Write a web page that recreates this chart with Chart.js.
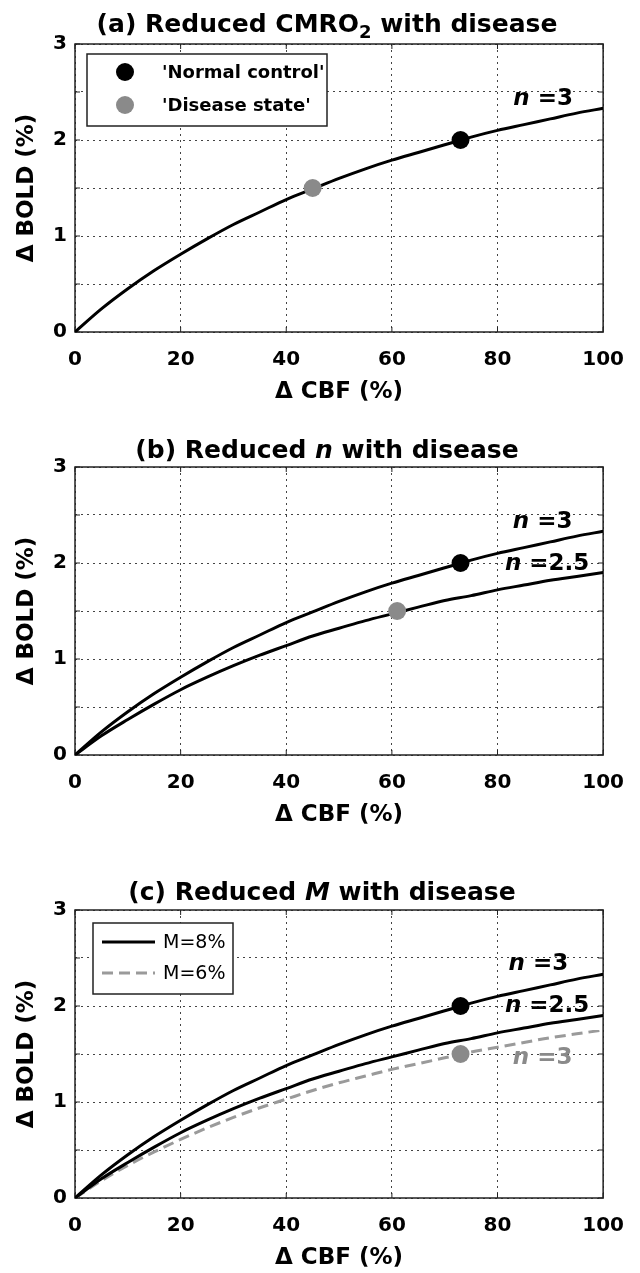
<!DOCTYPE html>
<html>
<head>
<meta charset="utf-8">
<script src="https://cdn.jsdelivr.net/npm/chart.js@4.4.0/dist/chart.umd.min.js"></script>
<style>
  body { margin: 0; background: #fff; }
  #wrap { position: relative; width: 640px; height: 1273px; }
  .panel { position: absolute; left: 0; width: 640px; }
</style>
</head>
<body>
<div id="wrap">
  <div class="panel" style="top:0"><canvas id="chartA" width="640" height="423"></canvas></div>
  <div class="panel" style="top:423px"><canvas id="chartB" width="640" height="443"></canvas></div>
  <div class="panel" style="top:866px"><canvas id="chartC" width="640" height="407"></canvas></div>
</div>
<script>
// values
const cbf = [0, 5, 10, 15, 20, 25, 30, 35, 40, 45, 50, 55, 60, 65, 70, 75, 80, 85, 90, 95, 100];
const boldN3M8 = [0, 0.24, 0.45, 0.64, 0.81, 0.97, 1.12, 1.25, 1.38, 1.49, 1.60, 1.70, 1.79, 1.87, 1.95, 2.03, 2.10, 2.16, 2.22, 2.28, 2.33];
const boldN25M8 = [0, 0.20, 0.37, 0.53, 0.68, 0.81, 0.93, 1.04, 1.14, 1.24, 1.32, 1.40, 1.47, 1.54, 1.61, 1.66, 1.72, 1.77, 1.82, 1.86, 1.90];
const boldN3M6 = [0, 0.18, 0.34, 0.48, 0.61, 0.73, 0.84, 0.94, 1.03, 1.12, 1.20, 1.27, 1.34, 1.40, 1.46, 1.52, 1.57, 1.62, 1.67, 1.71, 1.75];

const normalPoint = [73, 2];
const diseasePointA = [45, 1.5];
const diseasePointB = [61, 1.5];
const diseasePointC = [73, 1.5];

const xTickValues = [0, 20, 40, 60, 80, 100];
const yTickLabels = [0, 1, 2, 3];

const FONT = '"DejaVu Sans", "Liberation Sans", Arial, sans-serif';
const GREY_DOT = '#8a8a8a';
const GREY_LINE = '#9a9a9a';

Chart.defaults.font.family = FONT;
Chart.defaults.color = '#000';

function pts(xs, ys) {
  return xs.map((x, i) => ({ x: x, y: ys[i] }));
}

function fontOf(p, size) {
  const s = p.sub ? Math.round(size * 0.7) : size;
  return (p.italic ? 'italic ' : '') + (p.normal ? '' : 'bold ') + s + 'px ' + FONT;
}

function drawParts(ctx, parts, x, y, size, align) {
  let w = 0;
  parts.forEach(p => { ctx.font = fontOf(p, size); w += ctx.measureText(p.t).width; });
  let cx = align === 'center' ? x - w / 2 : x;
  ctx.textBaseline = 'alphabetic';
  ctx.textAlign = 'left';
  parts.forEach(p => {
    ctx.font = fontOf(p, size);
    ctx.fillText(p.t, cx, y + (p.sub ? size * 0.22 : 0));
    cx += ctx.measureText(p.t).width;
  });
}

// box around the plot plus MATLAB style inner ticks
const frame = {
  id: 'frame',
  beforeDatasetsDraw(chart) {
    const { ctx, chartArea: a, scales } = chart;
    ctx.save();
    ctx.strokeStyle = '#222';
    ctx.lineWidth = 1;
    ctx.beginPath();
    scales.x.ticks.forEach(t => {
      const px = scales.x.getPixelForValue(t.value);
      ctx.moveTo(px, a.bottom); ctx.lineTo(px, a.bottom - 5);
      ctx.moveTo(px, a.top); ctx.lineTo(px, a.top + 5);
    });
    scales.y.ticks.forEach(t => {
      const py = scales.y.getPixelForValue(t.value);
      ctx.moveTo(a.left, py); ctx.lineTo(a.left + 5, py);
      ctx.moveTo(a.right, py); ctx.lineTo(a.right - 5, py);
    });
    ctx.stroke();
    ctx.lineWidth = 1.5;
    ctx.strokeRect(a.left, a.top, a.right - a.left, a.bottom - a.top);
    ctx.restore();
  }
};

const richTitle = {
  id: 'richTitle',
  afterDraw(chart, args, opts) {
    if (!opts.parts) return;
    const ctx = chart.ctx;
    ctx.save();
    ctx.fillStyle = '#000';
    drawParts(ctx, opts.parts, opts.x, opts.y, opts.size, 'center');
    ctx.restore();
  }
};

const curveLabels = {
  id: 'curveLabels',
  afterDatasetsDraw(chart, args, opts) {
    if (!opts.items) return;
    const { ctx, scales } = chart;
    ctx.save();
    opts.items.forEach(it => {
      ctx.fillStyle = it.color || '#000';
      drawParts(ctx, it.parts, scales.x.getPixelForValue(it.x), scales.y.getPixelForValue(it.y), opts.size, 'left');
    });
    ctx.restore();
  }
};

const boxLegend = {
  id: 'boxLegend',
  afterDatasetsDraw(chart, args, o) {
    if (!o.width) return;
    const { ctx, chartArea: a } = chart;
    const left = a.left + o.left, top = a.top + o.top;
    ctx.save();
    ctx.fillStyle = '#fff';
    ctx.fillRect(left, top, o.width, o.height);
    ctx.strokeStyle = '#222';
    ctx.lineWidth = 1.5;
    ctx.strokeRect(left, top, o.width, o.height);
    const items = chart.data.datasets.filter(d => d.inLegend);
    items.forEach((d, i) => {
      const cy = top + o.rows[i];
      if (d.type === 'scatter') {
        ctx.fillStyle = d.backgroundColor;
        ctx.beginPath();
        ctx.arc(left + o.markerX, cy, d.pointRadius, 0, Math.PI * 2);
        ctx.fill();
      } else {
        ctx.strokeStyle = d.borderColor;
        ctx.lineWidth = d.borderWidth;
        ctx.setLineDash(d.borderDash || []);
        ctx.beginPath();
        ctx.moveTo(left + o.lineFrom, cy);
        ctx.lineTo(left + o.lineTo, cy);
        ctx.stroke();
        ctx.setLineDash([]);
      }
      ctx.fillStyle = '#000';
      ctx.font = o.font;
      ctx.textAlign = 'left';
      ctx.textBaseline = 'middle';
      ctx.fillText(d.label, left + o.textX, cy + 1);
    });
    ctx.restore();
  }
};

function curve(label, ys, color, dash) {
  return {
    type: 'line', label: label, data: pts(cbf, ys),
    borderColor: color, borderWidth: 3, borderDash: dash || [],
    pointRadius: 0, cubicInterpolationMode: 'monotone', fill: false
  };
}

function marker(label, p, color, inLegend) {
  return {
    type: 'scatter', label: label, data: [{ x: p[0], y: p[1] }],
    backgroundColor: color, borderWidth: 0, pointRadius: 9, pointHoverRadius: 9,
    inLegend: inLegend
  };
}

function n(rest) {
  return [{ t: 'n', italic: true }, { t: ' ' + rest }];
}

function makeChart(id, bottomPad, datasets, plugins) {
  return new Chart(document.getElementById(id), {
    type: 'line',
    data: { datasets: datasets },
    options: {
      responsive: false,
      animation: false,
      layout: { padding: { top: 44, left: 0, right: 33, bottom: bottomPad } },
      scales: {
        x: {
          type: 'linear', min: 0, max: 100,
          afterBuildTicks(s) { s.ticks = xTickValues.map(v => ({ value: v })); },
          ticks: { padding: 16, color: '#000', font: { size: 20, weight: 'bold' } },
          grid: { color: '#444', lineWidth: 1, drawTicks: false },
          border: { display: false, dash: [2, 4] },
          title: { display: true, text: '\u0394 CBF (%)', color: '#000', font: { size: 23, weight: 'bold' }, padding: 0 },
          afterFit(s) { s.height = 74; }
        },
        y: {
          min: 0, max: 3,
          ticks: {
            stepSize: 0.5, padding: 8, color: '#000', font: { size: 20, weight: 'bold' },
            callback: v => (yTickLabels.includes(v) ? String(v) : '')
          },
          grid: { color: '#444', lineWidth: 1, drawTicks: false },
          border: { display: false, dash: [2, 4] },
          title: { display: true, text: '\u0394 BOLD (%)', color: '#000', font: { size: 23, weight: 'bold' }, padding: { top: 13, bottom: 0 } },
          afterFit(s) { s.width = 75; }
        }
      },
      plugins: Object.assign({ legend: { display: false }, tooltip: { enabled: false } }, plugins)
    },
    plugins: [frame, richTitle, curveLabels, boxLegend]
  });
}

// (a)
makeChart('chartA', 17, [
  marker("'Normal control'", normalPoint, '#000', true),
  marker("'Disease state'", diseasePointA, GREY_DOT, true),
  curve('n=3', boldN3M8, '#000')
], {
  richTitle: { x: 327, y: 32, size: 25, parts: [{ t: '(a) Reduced CMRO' }, { t: '2', sub: true }, { t: ' with disease' }] },
  curveLabels: { size: 23, items: [{ x: 83, y: 2.36, parts: n('=3') }] },
  boxLegend: { left: 12, top: 10, width: 240, height: 72, rows: [18, 51], markerX: 38, textX: 75, font: 'bold 18px ' + FONT }
});

// (b)
makeChart('chartB', 37, [
  marker("'Normal control'", normalPoint, '#000', false),
  marker("'Disease state'", diseasePointB, GREY_DOT, false),
  curve('n=3', boldN3M8, '#000'),
  curve('n=2.5', boldN25M8, '#000')
], {
  richTitle: { x: 327, y: 35, size: 25, parts: [{ t: '(b) Reduced ' }, { t: 'n', italic: true }, { t: ' with disease' }] },
  curveLabels: { size: 23, items: [
    { x: 82.9, y: 2.36, parts: n('=3') },
    { x: 81.4, y: 1.93, parts: n('=2.5') }
  ] }
});

// (c)
makeChart('chartC', 1, [
  marker("'Normal control'", normalPoint, '#000', false),
  marker("'Disease state'", diseasePointC, GREY_DOT, false),
  Object.assign(curve('M=8%', boldN3M8, '#000'), { inLegend: true }),
  curve('M=8% n=2.5', boldN25M8, '#000'),
  Object.assign(curve('M=6%', boldN3M6, GREY_LINE, [11, 6]), { inLegend: true })
], {
  richTitle: { x: 322, y: 34, size: 25, parts: [{ t: '(c) Reduced ' }, { t: 'M', italic: true }, { t: ' with disease' }] },
  curveLabels: { size: 23, items: [
    { x: 82.1, y: 2.38, parts: n('=3') },
    { x: 81.4, y: 1.94, parts: n('=2.5') },
    { x: 82.9, y: 1.40, parts: n('=3'), color: '#8a8a8a' }
  ] },
  boxLegend: { left: 18, top: 13, width: 140, height: 71, rows: [19, 50], lineFrom: 9, lineTo: 62, textX: 70, font: '19px ' + FONT }
});
</script>
</body>
</html>
